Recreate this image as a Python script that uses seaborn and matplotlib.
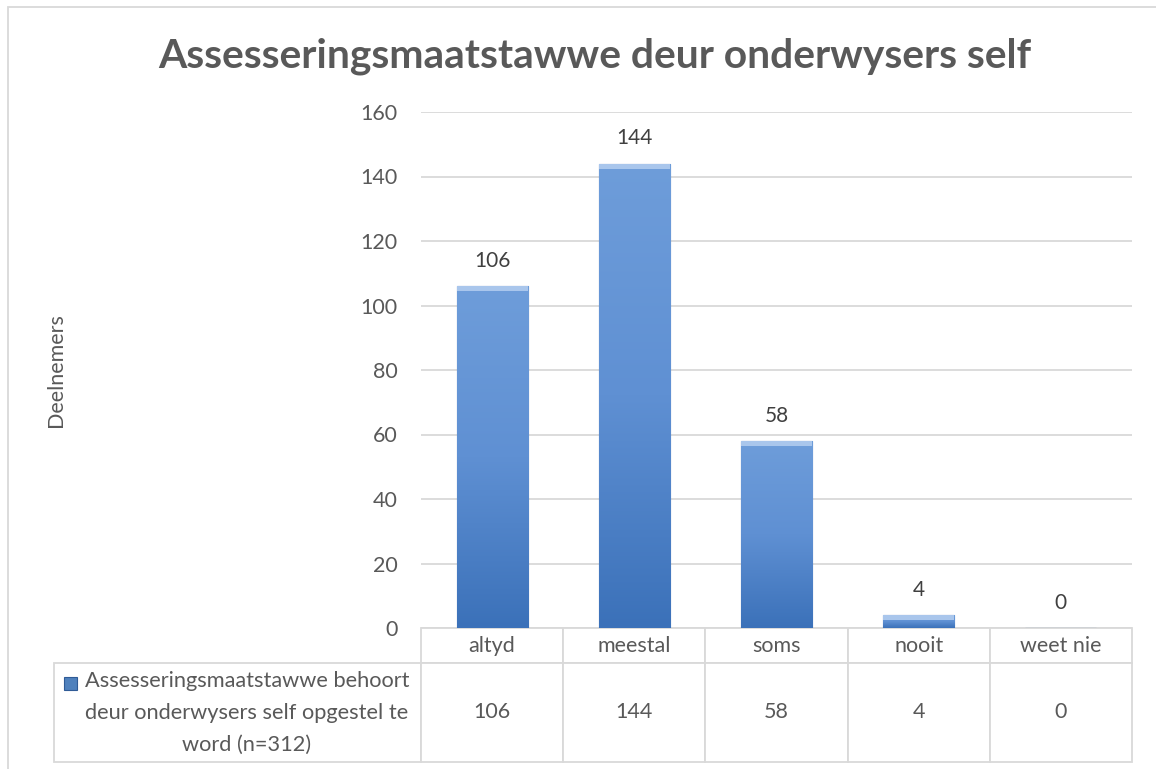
import numpy as np
import matplotlib.pyplot as plt
import matplotlib.colors as mcolors
from matplotlib.patches import Rectangle
import seaborn as sns

# Data
categories = ["altyd", "meestal", "soms", "nooit", "weet nie"]
values = [106, 144, 58, 4, 0]
series_label = "Assesseringsmaatstawwe behoort\ndeur onderwysers self opgestel te\nword (n=312)"
title = "Assesseringsmaatstawwe deur onderwysers self"
y_label = "Deelnemers"
y_ticks = [0, 20, 40, 60, 80, 100, 120, 140, 160]

sns.set_style("white")
plt.rcParams['font.family'] = ['Lato', 'DejaVu Sans']

text_grey = "#595959"
grid_grey = "#D9D9D9"

W, H = 1156, 769
fig = plt.figure(figsize=(W / 100, H / 100), dpi=100)
# plot area in pixels: x 421..1132, y 112..628
ax = fig.add_axes([421 / W, 1 - 628 / H, 711 / W, 516 / H])

sns.barplot(x=categories, y=values, color="#4F81BD", width=0.5, ax=ax,
            edgecolor="#2F5B96", linewidth=0.8, zorder=3)

# vertical gradient on the bars
cmap = mcolors.LinearSegmentedColormap.from_list("bar", ["#3B71B9", "#5F90D3", "#6E9DDA"])
grad = np.linspace(0, 1, 256).reshape(-1, 1)
for p in ax.patches:
    x0, y0 = p.get_x(), p.get_y()
    w, h = p.get_width(), p.get_height()
    if h <= 0:
        continue
    im = ax.imshow(grad, extent=[x0, x0 + w, y0, y0 + h], origin="lower",
                   aspect="auto", cmap=cmap, zorder=3.5)
    im.set_clip_path(p)
    # light bevel at top
    ax.add_patch(Rectangle((x0, y0 + h - min(h, 1.6)), w, min(h, 1.6),
                           color="#A9C6EC", zorder=3.6, lw=0))

ax.bar_label(ax.containers[0], padding=11, fontsize=15, color="#404040")

ax.set_xlim(-0.5, 4.5)
ax.set_ylim(0, 160)
ax.set_yticks(y_ticks)
ax.tick_params(axis="y", length=0, pad=17, labelsize=15.5, labelcolor=text_grey)
ax.set_xticks([])
ax.set_xlabel("")
ax.grid(axis="y", color=grid_grey, linewidth=1.3, zorder=0)
ax.set_axisbelow(True)
for s in ax.spines.values():
    s.set_visible(False)

ax.set_ylabel(y_label, fontsize=15.5, color=text_grey)
ax.yaxis.set_label_coords((66 - 421) / 711, 0.5)

fig.text(595 / W, 1 - 56 / H, title, ha="center", va="center",
         fontsize=29.3, fontweight="bold", color=text_grey)

# data table under the plot (sizes in axes units so the bbox does not rescale)
tbl = ax.table(cellText=[[str(v) for v in values]], rowLabels=[""],
               colLabels=categories, cellLoc="center", rowLoc="center",
               colLoc="center", bbox=[0, -134 / 516, 1, 134 / 516])
tbl._autoColumns = []
tbl.auto_set_font_size(False)
tbl.set_fontsize(15.5)
for (r, c), cell in tbl.get_celld().items():
    cell.set_edgecolor(grid_grey)
    cell.set_linewidth(1.3)
    cell.get_text().set_color(text_grey)
    cell.set_width(367 / 711 if c == -1 else 0.2)
    cell.set_height((35 if r == 0 else 99) / 516)

# series name in the row label cell, centred to the right of the legend key
ax.text((247 - 421) / 711, -(713 - 628) / 516, series_label, transform=ax.transAxes,
        ha="center", va="center", multialignment="center", linespacing=1.75,
        fontsize=15.7, color=text_grey)
ax.add_patch(Rectangle(((64 - 421) / 711, -(690 - 628) / 516), 13 / 711, 13 / 516,
                       transform=ax.transAxes, clip_on=False,
                       facecolor="#4F81BD", edgecolor="#2F5B96", lw=0.8))

# chart border
fig.add_artist(Rectangle((8 / W, -0.05), 1.2, 1.05 - 7 / H, transform=fig.transFigure,
                         fill=False, edgecolor=grid_grey, lw=1.3))

fig.savefig("out.png", dpi=100)
